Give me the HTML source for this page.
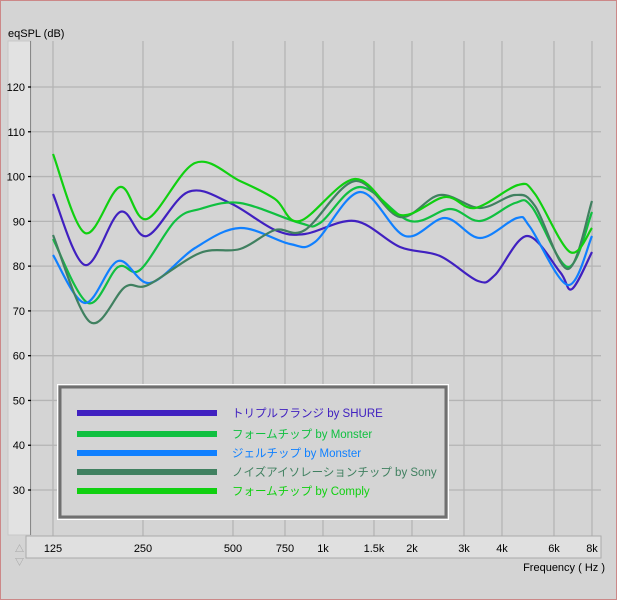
<!DOCTYPE html>
<html><head><meta charset="utf-8"><style>
body{margin:0;background:#d4d4d4;}
#w{position:relative;width:617px;height:600px;background:#d4d4d4;box-sizing:border-box;border:1px solid #c88;font-family:"Liberation Sans","Noto Sans CJK JP",sans-serif;}
</style></head><body><div id="w">
<svg id="s" width="617" height="600" style="position:absolute;left:-1px;top:-1px" font-family="Liberation Sans, Noto Sans CJK JP, sans-serif">
<text x="8" y="37" font-size="11" fill="#000">eqSPL (dB)</text>
<rect x="8" y="41" width="23" height="494" fill="#e2e2e2" stroke="#c8c8c8"/>
<line x1="30.5" y1="41" x2="30.5" y2="535" stroke="#888"/>
<g id="grid" stroke="#b4b4b4" stroke-width="1.3"></g>
<g id="yl" font-size="11" fill="#000" text-anchor="end"></g>
<rect x="26" y="536" width="575" height="22" fill="#e0e0e0" stroke="#aaa"/>
<g id="xl" font-size="11" fill="#000" text-anchor="middle"></g>
<text x="15" y="552" font-size="9" fill="#999">△</text>
<text x="15" y="565" font-size="9" fill="#999">▽</text>
<text x="605" y="571" font-size="11" text-anchor="end" fill="#000">Frequency ( Hz )</text>
<g id="curves" fill="none" stroke-width="2.2"></g>
<rect x="57.5" y="384.5" width="391" height="135" fill="#d4d4d4" stroke="#fff"/>
<rect x="60" y="387" width="386" height="130" fill="none" stroke="#707070" stroke-width="3"/>
<g font-size="11.5">
<rect x="77" y="410" width="140" height="6" fill="#4020c0"/><text x="232" y="417" fill="#4020c0">トリプルフランジ by SHURE</text>
<rect x="77" y="431" width="140" height="6" fill="#10c040"/><text x="232" y="438" fill="#10c040">フォームチップ by Monster</text>
<rect x="77" y="450" width="140" height="6" fill="#1080ff"/><text x="232" y="457" fill="#1080ff">ジェルチップ by Monster</text>
<rect x="77" y="469" width="140" height="6" fill="#408060"/><text x="232" y="476" fill="#408060">ノイズアイソレーションチップ by Sony</text>
<rect x="77" y="488" width="140" height="6" fill="#10d010"/><text x="232" y="495" fill="#10d010">フォームチップ by Comply</text>
</g>
</svg>
<script>
var NS="http://www.w3.org/2000/svg";
function el(p,t,a,txt){var e=document.createElementNS(NS,t);for(var k in a)e.setAttribute(k,a[k]);if(txt)e.textContent=txt;document.getElementById(p).appendChild(e);}
for(var v=30;v<=120;v+=10){var y=87+(120-v)*4.478;el("grid","line",{x1:31,x2:601,y1:y,y2:y});el("yl","text",{x:25,y:y+4},String(v));el("grid","line",{x1:28,x2:31,y1:y,y2:y,stroke:"#000"});}
var xs=[[53,"125"],[143,"250"],[233,"500"],[285,"750"],[323,"1k"],[374,"1.5k"],[412,"2k"],[464,"3k"],[502,"4k"],[554,"6k"],[592,"8k"]];
xs.forEach(function(a){el("grid","line",{x1:a[0],x2:a[0],y1:41,y2:536});el("xl","text",{x:a[0],y:552},a[1]);});
function cr(p){var d="M"+p[0][0]+","+p[0][1];for(var i=0;i<p.length-1;i++){var p0=p[i-1]||p[i],p1=p[i],p2=p[i+1],p3=p[i+2]||p2;d+=" C"+(p1[0]+(p2[0]-p0[0])/6)+","+(p1[1]+(p2[1]-p0[1])/6)+" "+(p2[0]-(p3[0]-p1[0])/6)+","+(p2[1]-(p3[1]-p1[1])/6)+" "+p2[0]+","+p2[1];}return d;}
var S=[
["#4020c0",[[53,194],[85,265],[120,212],[147,236],[188,192],[230,203],[275,230],[305,234],[355,221],[400,247],[440,256],[478,281],[495,275],[527,236],[560,272],[572,289],[592,252]]],
["#10c040",[[53,239],[88,303],[118,267],[140,270],[175,221],[200,209],[240,203],[300,223],[320,223],[360,187],[410,221],[450,209],[480,221],[515,203],[532,207],[568,267],[592,212]]],
["#1080ff",[[53,255],[85,303],[118,261],[150,283],[195,248],[240,228],[290,244],[315,242],[360,192],[405,236],[445,218],[480,238],[517,218],[530,227],[568,285],[592,236]]],
["#408060",[[53,235],[90,322],[125,287],[148,285],[200,253],[240,249],[275,230],[305,230],[355,181],[400,217],[440,195],[480,208],[515,195],[535,206],[568,269],[592,201]]],
["#10d010",[[53,154],[85,233],[120,187],[147,219],[195,163],[240,181],[275,199],[300,221],[355,179],[400,215],[445,197],[475,208],[518,185],[535,194],[570,252],[592,228]]]];
S.forEach(function(s){el("curves","path",{d:cr(s[1]),stroke:s[0]});});
</script>
</div></body></html>
